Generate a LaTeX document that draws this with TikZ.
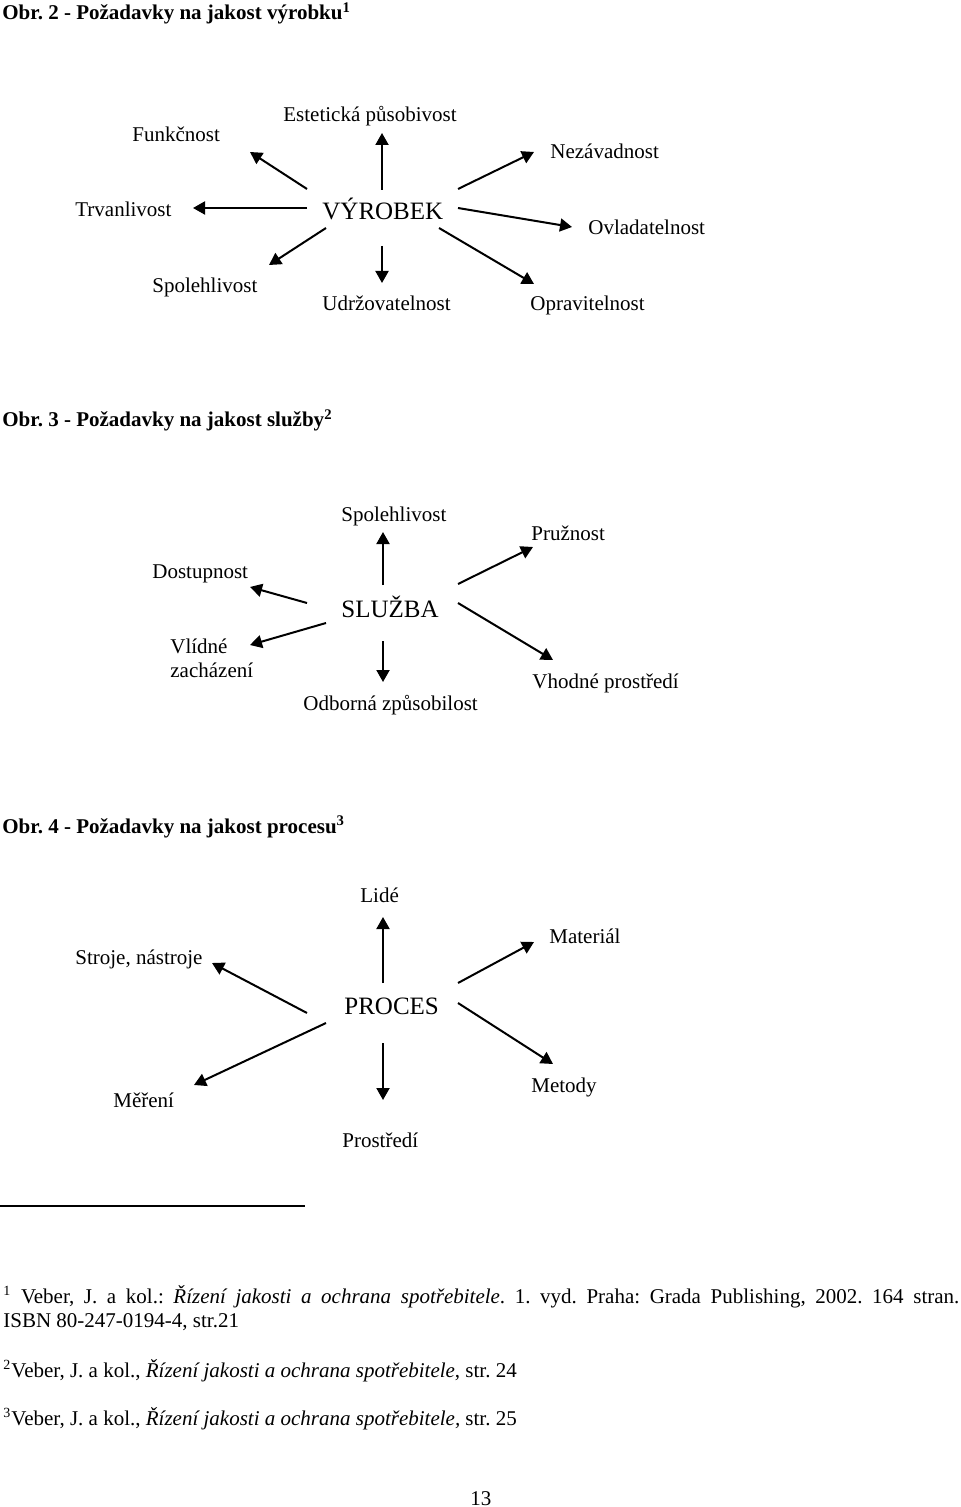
\documentclass[tikz,border=0pt]{standalone}
\usepackage{fontspec}
\setmainfont{Liberation Serif}
\usetikzlibrary{positioning,arrows.meta,calc}
\tikzstyle{ttl}=[inner sep=0pt, anchor=base west, font=\fontsize{10.5}{12}\selectfont\bfseries]
\tikzstyle{hub}=[inner sep=0pt, anchor=base west, font=\fontsize{12.5}{15}\selectfont]
\tikzstyle{lbl}=[inner sep=0pt, anchor=base west, font=\fontsize{10.5}{12}\selectfont]
\tikzstyle{fnote}=[inner sep=0pt, anchor=base west, font=\fontsize{10.5}{12}\selectfont]
\tikzstyle{pline}=[-{Triangle[length=6pt,width=6.5pt]}, line width=1pt]
\frenchspacing

\begin{document}
\begin{tikzpicture}[x=0.5pt,y=-0.5pt]
\useasboundingbox (0,0) rectangle (960,1507);

% Obr. 2 -- vyrobek
\node (T2) [ttl] at (2,20) {Obr. 2 - Požadavky na jakost výrobku\textsuperscript{1}};
\node (VYR) [hub] at (322,220) {VÝROBEK};
\node (FUN) [lbl] at (132,142) {Funkčnost};
\node (EST) [lbl] at (283,122) {Estetická působivost};
\node (NEZ) [lbl] at (550,159) {Nezávadnost};
\node (TRV) [lbl] at (75,217) {Trvanlivost};
\node (OVL) [lbl] at (588,235) {Ovladatelnost};
\node (SPO) [lbl] at (152,293) {Spolehlivost};
\node (UDR) [lbl] at (322,311) {Udržovatelnost};
\node (OPR) [lbl] at (530,311) {Opravitelnost};
\coordinate (fun0) at (307,189); \coordinate (fun1) at (250,152);
\coordinate (est0) at (382,190); \coordinate (est1) at (382,133);
\coordinate (nez0) at (458,189); \coordinate (nez1) at (534,152);
\coordinate (trv0) at (307,208); \coordinate (trv1) at (193,208);
\coordinate (ovl0) at (458,208); \coordinate (ovl1) at (572,227);
\coordinate (spo0) at (326,228); \coordinate (spo1) at (269,265);
\coordinate (udr0) at (382,246); \coordinate (udr1) at (382,283);
\coordinate (opr0) at (439,228); \coordinate (opr1) at (534,284);
 \draw[pline] (fun0) -- (fun1);
 \draw[pline] (est0) -- (est1);
 \draw[pline] (nez0) -- (nez1);
 \draw[pline] (trv0) -- (trv1);
 \draw[pline] (ovl0) -- (ovl1);
 \draw[pline] (spo0) -- (spo1);
 \draw[pline] (udr0) -- (udr1);
 \draw[pline] (opr0) -- (opr1);

% Obr. 3 -- sluzba
\node (T3) [ttl] at (2,427) {Obr. 3 - Požadavky na jakost služby\textsuperscript{2}};
\node (SLU) [hub] at (341,617) {SLUŽBA};
\node (SPL) [lbl] at (341,522) {Spolehlivost};
\node (PRU) [lbl] at (531,540) {Pružnost};
\node (DOS) [lbl] at (152,578) {Dostupnost};
\node (VLI) [lbl, align=left] at (170,677) {Vlídné\\zacházení};
\node (ODB) [lbl] at (303,710) {Odborná způsobilost};
\node (VHO) [lbl] at (532,688) {Vhodné prostředí};
\coordinate (spl0) at (383,585); \coordinate (spl1) at (383,532);
\coordinate (pru0) at (458,584); \coordinate (pru1) at (533,547);
\coordinate (dos0) at (307,603); \coordinate (dos1) at (250,587);
\coordinate (vli0) at (326,623); \coordinate (vli1) at (250,645);
\coordinate (odb0) at (383,641); \coordinate (odb1) at (383,682);
\coordinate (vho0) at (458,603); \coordinate (vho1) at (553,660);
 \draw[pline] (spl0) -- (spl1);
 \draw[pline] (pru0) -- (pru1);
 \draw[pline] (dos0) -- (dos1);
 \draw[pline] (vli0) -- (vli1);
 \draw[pline] (odb0) -- (odb1);
 \draw[pline] (vho0) -- (vho1);

% Obr. 4 -- proces
\node (T4) [ttl] at (2,833) {Obr. 4 - Požadavky na jakost procesu\textsuperscript{3}};
\node (PRO) [hub] at (344,1014) {PROCES};
\node (LID) [lbl] at (360,902) {Lidé};
\node (STR) [lbl] at (75,964) {Stroje, nástroje};
\node (MAT) [lbl] at (549,943) {Materiál};
\node (MER) [lbl] at (113,1107) {Měření};
\node (MET) [lbl] at (531,1092) {Metody};
\node (PRS) [lbl] at (342,1147) {Prostředí};
\coordinate (lid0) at (383,983);  \coordinate (lid1) at (383,917);
\coordinate (str0) at (307,1013); \coordinate (str1) at (212,963);
\coordinate (mat0) at (458,983);  \coordinate (mat1) at (534,942);
\coordinate (mer0) at (326,1023); \coordinate (mer1) at (194,1085);
\coordinate (met0) at (458,1003); \coordinate (met1) at (553,1064);
\coordinate (prs0) at (383,1043); \coordinate (prs1) at (383,1100);
 \draw[pline] (lid0) -- (lid1);
 \draw[pline] (str0) -- (str1);
 \draw[pline] (mat0) -- (mat1);
 \draw[pline] (mer0) -- (mer1);
 \draw[pline] (met0) -- (met1);
 \draw[pline] (prs0) -- (prs1);

% footnotes
\coordinate (rule0) at (0,1206); \coordinate (rule1) at (305,1206);
\draw[line width=0.75pt] (rule0) -- (rule1);
\node (FN1) [fnote] at (3,1303) {\makebox[478pt][s]{\textsuperscript{\scriptsize 1} Veber, J. a kol.: \textit{Řízení jakosti a ochrana spotřebitele}. 1. vyd. Praha: Grada Publishing, 2002. 164 stran.}};
\node (FN1B) [fnote] at (3,1327) {ISBN 80-247-0194-4, str.21};
\node (FN2) [fnote] at (3,1377) {\textsuperscript{\scriptsize 2}Veber, J. a kol., \textit{Řízení jakosti a ochrana spotřebitele}, str. 24};
\node (FN3) [fnote] at (3,1425) {\textsuperscript{\scriptsize 3}Veber, J. a kol., \textit{Řízení jakosti a ochrana spotřebitele,} str. 25};
\node (PG) [fnote] at (470,1505) {13};
\end{tikzpicture}
\end{document}
